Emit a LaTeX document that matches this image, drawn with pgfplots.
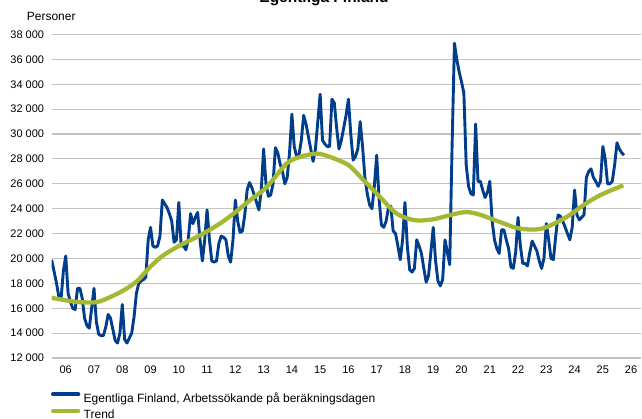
\documentclass[border=0pt]{standalone}
\usepackage{pgfplots}
\pgfplotsset{compat=1.18}
\usepackage{fontspec}
\setmainfont{Liberation Sans}
\definecolor{dblue}{RGB}{0,61,138}
\definecolor{tgreen}{RGB}{164,184,52}
\definecolor{gridc}{RGB}{195,195,195}
\begin{document}
\begin{tikzpicture}[x=1pt,y=1pt]
\begin{axis}[
  at={(51.6pt,61pt)}, anchor=south west,
  scale only axis, width=589.4pt, height=323.5pt,
  xmin=0, xmax=250.2, ymin=12000, ymax=38000,
  scaled y ticks=false, scaled x ticks=false,
  axis line style={draw=none}, tick style={draw=none},
  ymajorgrids, grid style={gridc, line width=1.1pt},
  xtick={6,18,30,42,54,66,78,90,102,114,126,138,150,162,174,186,198,210,222,234,246},
  xticklabels={06,07,08,09,10,11,12,13,14,15,16,17,18,19,20,21,22,23,24,25,26},
  ytick={12000,14000,16000,18000,20000,22000,24000,26000,28000,30000,32000,34000,36000,38000},
  yticklabels={12 000,14 000,16 000,18 000,20 000,22 000,24 000,26 000,28 000,30 000,32 000,34 000,36 000,38 000},
  ticklabel style={font=\fontsize{11}{13}\selectfont},
  xticklabel style={anchor=base, inner sep=0pt, yshift=-16pt},
  yticklabel style={anchor=east, inner sep=0pt, xshift=-7.3pt},
  legend style={at={(0,0)}, anchor=north west, xshift=-0.6pt, yshift=-33.5pt,
    draw=none, fill=none, inner sep=0pt, outer sep=0pt,
    font=\fontsize{12}{14}\selectfont, row sep=4pt, column sep=2.4pt,
    nodes={inner sep=1pt}},
  legend cell align=left,
  legend image code/.code={\draw[#1, line width=4pt, line cap=round] (0pt,3.8pt) -- (25.3pt,3.8pt);},
]
\addplot[dblue, line width=2.9pt, line join=round] table[x expr=\coordindex, y index=0, row sep=\\, header=false] {
19900\\ 19000\\ 18100\\ 17000\\ 16700\\ 19000\\ 20200\\ 17200\\ 16500\\ 16000\\ 15900\\ 17600\\
17600\\ 16800\\ 15200\\ 14600\\ 14400\\ 16000\\ 17600\\ 14900\\ 13900\\ 13800\\ 13800\\ 14500\\
15500\\ 15200\\ 14300\\ 13400\\ 13200\\ 14000\\ 16300\\ 13500\\ 13200\\ 13600\\ 14000\\ 15300\\
17200\\ 18000\\ 18200\\ 18300\\ 18500\\ 21500\\ 22500\\ 21000\\ 20900\\ 21000\\ 21800\\ 24700\\
24400\\ 24100\\ 23600\\ 23000\\ 21300\\ 21500\\ 24500\\ 21000\\ 21000\\ 20700\\ 21500\\ 23600\\
22800\\ 23300\\ 23700\\ 21500\\ 19800\\ 21500\\ 23900\\ 21500\\ 19800\\ 19700\\ 19800\\ 21200\\
21800\\ 21700\\ 21500\\ 20200\\ 19700\\ 21500\\ 24700\\ 23000\\ 22100\\ 22200\\ 23500\\ 25500\\
26100\\ 25700\\ 25100\\ 24500\\ 23900\\ 25500\\ 28800\\ 26000\\ 25000\\ 25100\\ 26000\\ 28900\\
28500\\ 27600\\ 27000\\ 26000\\ 26500\\ 28500\\ 31600\\ 29000\\ 28200\\ 28300\\ 29500\\ 31500\\
30800\\ 29800\\ 28800\\ 27800\\ 28800\\ 31000\\ 33200\\ 29500\\ 29200\\ 29000\\ 29000\\ 32800\\
32500\\ 30500\\ 28800\\ 29500\\ 30500\\ 31500\\ 32800\\ 30000\\ 27900\\ 28200\\ 28800\\ 31000\\
29000\\ 26500\\ 25200\\ 24300\\ 24000\\ 25800\\ 28300\\ 24800\\ 22700\\ 22500\\ 23000\\ 24100\\
24200\\ 22200\\ 22000\\ 21000\\ 19900\\ 21500\\ 24500\\ 21000\\ 19100\\ 18900\\ 19200\\ 21500\\
21000\\ 20400\\ 19200\\ 18100\\ 18600\\ 20500\\ 22500\\ 19800\\ 18200\\ 17800\\ 18300\\ 21500\\
20500\\ 19500\\ 29000\\ 37300\\ 36000\\ 35000\\ 34200\\ 33300\\ 27500\\ 25800\\ 25200\\ 25100\\
30800\\ 26200\\ 26200\\ 25500\\ 24900\\ 25300\\ 26200\\ 23000\\ 21500\\ 20800\\ 20400\\ 22300\\
22300\\ 21500\\ 20800\\ 19300\\ 19200\\ 20500\\ 23300\\ 21000\\ 19600\\ 19600\\ 19400\\ 20500\\
21400\\ 21000\\ 20600\\ 19800\\ 19200\\ 20000\\ 22800\\ 21500\\ 20000\\ 19900\\ 21800\\ 23500\\
23400\\ 23000\\ 22500\\ 22000\\ 21500\\ 22500\\ 25500\\ 23500\\ 23100\\ 23300\\ 23500\\ 26500\\
27000\\ 27200\\ 26500\\ 26200\\ 25800\\ 26200\\ 29000\\ 28000\\ 26000\\ 26000\\ 26200\\ 27500\\
29300\\ 28800\\ 28500\\ 28300\\
};
\addlegendentry{Egentliga Finland, Arbetssökande på beräkningsdagen}
\addplot[tgreen, line width=4.3pt, smooth, line join=round] coordinates {
(0,16840) (6.4,16620) (12,16490) (19.2,16490) (24.8,16890) (30.5,17430) (36.1,18150)
(41.8,19310) (47.4,20250) (54.5,21050) (63,21860) (71.4,22800) (77.2,23600) (84.2,24670)
(91.3,25740) (99.8,27630) (105.5,28160) (112.6,28430) (118.2,28160) (126,27500) (132.4,26300)
(139.4,24940) (146.5,23600) (154.2,23070) (162,23150) (170.5,23550) (176.2,23730) (181.8,23520)
(190.3,22930) (197.4,22450) (204.5,22320) (210.1,22520) (218.6,23330) (225.7,24270)
(232.8,25080) (242.7,25880)
};
\addlegendentry{Trend}
\end{axis}
\node[anchor=west, inner sep=0pt, font=\fontsize{12}{14}\selectfont] at (26.7,402.3) {Personer};
\node[anchor=base, inner sep=0pt, font=\bfseries\fontsize{15.5}{18}\selectfont] at (324,416.5) {Egentliga Finland};
\pgfresetboundingbox
\path[use as bounding box] (0,0) rectangle (642,419);
\end{tikzpicture}
\end{document}
